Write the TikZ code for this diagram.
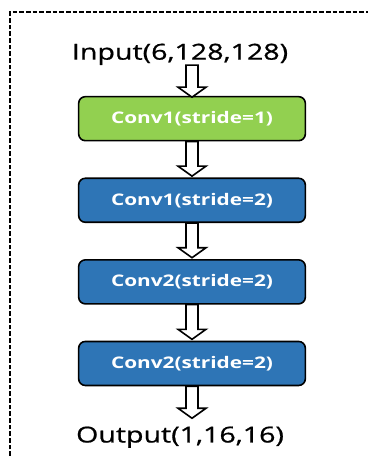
\documentclass[tikz,border=0pt]{standalone}
\usepackage{fontspec}
\setmainfont{Open Sans}
\newfontfamily\widefont[FakeStretch=1.3]{Open Sans}
\newfontfamily\heavyfont[FakeStretch=1.3, FakeBold=0.8]{Open Sans}
\usetikzlibrary{positioning, calc}

\definecolor{convgreen}{HTML}{92D050}
\definecolor{convblue}{HTML}{2E75B6}

% hollow block arrow hanging below a node: #1 = node, #2 = length
\newcommand{\hollowarrow}[2]{%
  \draw[arrowline] ($(#1.south)+(-4.5,0)$) -- ++(0,{-(#2)+7.5}) -- ++(-6,0)
    -- ++(10.5,-7.5) -- ++(10.5,7.5) -- ++(-6,0) -- ++(0,{(#2)-7.5}) -- cycle;}

\begin{document}
\begin{tikzpicture}[
  x=1pt, y=1pt,
  node distance=27pt,
  every node/.style={inner sep=0pt},
  convbox/.style={rectangle, rounded corners=5pt, draw=black, line width=1.2pt,
    minimum width=170pt, minimum height=33pt, text=white,
    font=\widefont\bfseries\fontsize{12}{15}\selectfont},
  ioname/.style={font=\heavyfont\fontsize{16.5}{20}\selectfont},
  arrowline/.style={draw=black, fill=white, line width=1.2pt, line join=miter}
]
\useasboundingbox (0,0) rectangle (275.25,342);
\draw[line width=1.4pt, dash pattern=on 3.5pt off 1.5pt] (7.5,-10) -- (7.5,333) -- (290,333);

\node[convbox, fill=convgreen] (conv1a) at (144,253) {Conv1(stride=1)};
\node[convbox, fill=convblue, below=of conv1a] (conv1b) {Conv1(stride=2)};
\node[convbox, fill=convblue, below=of conv1b] (conv2a) {Conv2(stride=2)};
\node[convbox, fill=convblue, below=of conv2a] (conv2b) {Conv2(stride=2)};
\coordinate[above=23pt of conv1a] (intop);
\coordinate[below=24pt of conv2b] (outtop);
\node[ioname, anchor=south, xshift=-9pt] (input) at (intop) {Input(6,128,128)};
\node[ioname, anchor=north, xshift=-9pt, yshift=-6pt] (output) at (outtop) {Output(1,16,16)};

% block arrows between the stages
\hollowarrow{intop}{24}
\foreach \a/\len in {conv1a/26, conv1b/26, conv2a/26, conv2b/24}
  \hollowarrow{\a}{\len};
\end{tikzpicture}
\end{document}
